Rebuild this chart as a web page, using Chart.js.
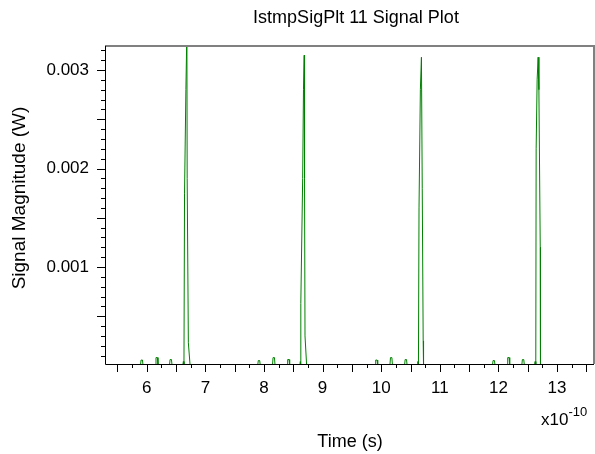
<!DOCTYPE html>
<html>
<head>
<meta charset="utf-8">
<script src="https://cdn.jsdelivr.net/npm/chart.js@4/dist/chart.umd.min.js"></script>
<style>
  html, body { margin: 0; padding: 0; background: #ffffff; }
  #wrap { width: 595px; height: 454px; }
</style>
</head>
<body>
<div id="wrap"><canvas id="c" width="595" height="454"></canvas></div>
<script>
// Time values in units of 1e-10 s, magnitudes in W, one small array pair per pulse group
const pulse1Time = [5.288, 5.893, 5.903, 5.927, 5.937, 6.148, 6.158, 6.182, 6.192, 6.388, 6.398, 6.422, 6.432, 6.615, 6.625, 6.635, 6.645, 6.668, 6.685, 6.690, 6.710, 6.740];
const pulse1Mag  = [0, 0, 0.000055, 0.000055, 0, 0, 0.00008, 0.00008, 0, 0, 0.00006, 0.00006, 0, 0, 0.00004, 0, 0.00175, 0.0028, 0.0034, 0.0019, 0.00023, 0];

const pulse2Time = [7.893, 7.903, 7.927, 7.937, 8.145, 8.155, 8.179, 8.189, 8.394, 8.404, 8.428, 8.438, 8.612, 8.620, 8.627, 8.630, 8.660, 8.674, 8.686, 8.692, 8.700, 8.728];
const pulse2Mag  = [0, 0.00005, 0.00005, 0, 0, 0.00008, 0.00008, 0, 0, 0.00006, 0.00006, 0, 0, 0.00004, 0, 0.00063, 0.0019, 0.0028, 0.00315, 0.0019, 0.0003, 0];

const pulse3Time = [9.896, 9.906, 9.930, 9.940, 10.148, 10.158, 10.182, 10.192, 10.398, 10.408, 10.432, 10.442, 10.615, 10.625, 10.635, 10.645, 10.668, 10.686, 10.700, 10.716, 10.722];
const pulse3Mag  = [0, 0.000055, 0.000055, 0, 0, 0.00008, 0.00008, 0, 0, 0.00006, 0.00006, 0, 0, 0.00004, 0, 0.0016, 0.0028, 0.00313, 0.0018, 0.00025, 0];

const pulse4Time = [11.898, 11.908, 11.932, 11.942, 12.148, 12.158, 12.182, 12.192, 12.398, 12.408, 12.432, 12.442, 12.615, 12.625, 12.637, 12.643, 12.660, 12.677, 12.690, 12.713, 12.717, 13.63];
const pulse4Mag  = [0, 0.00005, 0.00005, 0, 0, 0.00008, 0.00008, 0, 0, 0.00006, 0.00006, 0, 0, 0.00004, 0, 0.0022, 0.0029, 0.00313, 0.0028, 0.0012, 0, 0];

const xTickLabels = [6, 7, 8, 9, 10, 11, 12, 13];
const yTickLabels = [0.001, 0.002, 0.003];

const chartTitle = 'IstmpSigPlt 11 Signal Plot';
const yAxisTitle = 'Signal Magnitude (W)';
const xAxisTitle = 'Time (s)';

const xRange = [5.288, 13.63];
const yRange = [0.000015, 0.003244];

const allTime = [].concat(pulse1Time, pulse2Time, pulse3Time, pulse4Time);
const allMag  = [].concat(pulse1Mag, pulse2Mag, pulse3Mag, pulse4Mag);
const points = allTime.map((t, i) => ({ x: t, y: allMag[i] }));

const FONT = "'Liberation Sans', Arial, sans-serif";

const framePlugin = {
  id: 'frame',
  afterDraw(chart) {
    const { ctx, chartArea: a, scales: { x, y } } = chart;
    ctx.save();
    // top & right frame (gray)
    ctx.strokeStyle = '#808080';
    ctx.lineWidth = 2;
    ctx.beginPath();
    ctx.moveTo(a.left, a.top);
    ctx.lineTo(a.right, a.top);
    ctx.lineTo(a.right, a.bottom);
    ctx.stroke();
    // axes (black)
    ctx.strokeStyle = '#000000';
    ctx.lineWidth = 1;
    ctx.beginPath();
    ctx.moveTo(a.left + 0.5, a.top);
    ctx.lineTo(a.left + 0.5, a.bottom + 0.5);
    ctx.lineTo(a.right, a.bottom + 0.5);
    ctx.stroke();
    // x tick marks every 0.25, longer every 0.5
    ctx.beginPath();
    for (let k = 22; k <= 54; k++) {
      const v = k / 4;
      if (v < xRange[0] || v > xRange[1]) continue;
      const px = Math.round(x.getPixelForValue(v)) + 0.5;
      const len = (k % 2 === 0) ? 8 : 4;
      ctx.moveTo(px, a.bottom);
      ctx.lineTo(px, a.bottom + len);
    }
    // y tick marks every 0.0001, longer every 0.0005
    for (let k = 1; k <= 32; k++) {
      const v = k / 10000;
      if (v < yRange[0] || v > yRange[1]) continue;
      const py = Math.round(y.getPixelForValue(v)) + 0.5;
      const len = (k % 5 === 0) ? 8 : 4;
      ctx.moveTo(a.left, py);
      ctx.lineTo(a.left - len, py);
    }
    ctx.stroke();

    ctx.fillStyle = '#000000';
    // chart title
    ctx.textAlign = 'center';
    ctx.textBaseline = 'middle';
    ctx.font = '18px ' + FONT;
    ctx.fillText(chartTitle, 356, 18);
    // x axis title
    ctx.fillText(xAxisTitle, 350, 442);
    // y axis title (rotated)
    ctx.save();
    ctx.translate(20, 198);
    ctx.rotate(-Math.PI / 2);
    ctx.font = '19px ' + FONT;
    ctx.fillText(yAxisTitle, 0, 0);
    ctx.restore();

    // exponent label
    ctx.textBaseline = 'alphabetic';
    ctx.textAlign = 'left';
    ctx.font = '17px ' + FONT;
    const base = 'x10';
    ctx.fillText(base, 541, 425);
    const w = ctx.measureText(base).width;
    ctx.font = '13px ' + FONT;
    ctx.fillText('-10', 541 + w, 416);
    ctx.restore();
  }
};

new Chart(document.getElementById('c'), {
  type: 'line',
  data: {
    datasets: [{
      data: points,
      borderColor: '#008000',
      borderWidth: 1,
      pointRadius: 0,
      tension: 0,
      fill: false
    }]
  },
  options: {
    responsive: false,
    animation: false,
    layout: { padding: { left: 0, right: 1, top: 46, bottom: 0 } },
    plugins: {
      legend: { display: false },
      tooltip: { enabled: false },
      title: { display: false }
    },
    scales: {
      x: {
        type: 'linear',
        min: xRange[0],
        max: xRange[1],
        afterBuildTicks: (s) => { s.ticks = xTickLabels.map(v => ({ value: v })); },
        afterFit: (s) => { s.height = 90; },
        grid: { display: false, drawTicks: false },
        border: { display: false },
        ticks: {
          color: '#000000',
          font: { family: FONT, size: 17 },
          padding: 14,
          maxRotation: 0,
          autoSkip: false,
          callback: (v) => String(v)
        },
        title: { display: false }
      },
      y: {
        type: 'linear',
        min: yRange[0],
        max: yRange[1],
        afterBuildTicks: (s) => { s.ticks = yTickLabels.map(v => ({ value: v })); },
        afterFit: (s) => { s.width = 105; },
        grid: { display: false, drawTicks: false },
        border: { display: false },
        ticks: {
          color: '#000000',
          font: { family: FONT, size: 17 },
          padding: 16,
          autoSkip: false,
          callback: (v) => Number(v).toFixed(3)
        },
        title: { display: false }
      }
    }
  },
  plugins: [framePlugin]
});
</script>
</body>
</html>
